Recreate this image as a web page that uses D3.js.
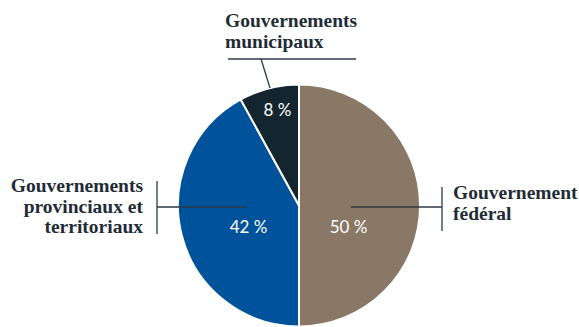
<!DOCTYPE html>
<html>
<head>
<meta charset="utf-8">
<script src="https://cdn.jsdelivr.net/npm/d3@7"></script>
<style>
  html, body { margin: 0; padding: 0; background: #ffffff; }
  svg { display: block; }
</style>
</head>
<body>
<svg id="chart" width="579" height="327"></svg>
<script>
// Share of spending by level of government
const categories = ["federal", "provincial", "municipal"];
const shares = [50, 42, 8];
const pctLabels = ["50 %", "42 %", "8 %"];
const nameLines = [
  ["Gouvernement", "fédéral"],
  ["Gouvernements", "provinciaux et", "territoriaux"],
  ["Gouvernements", "municipaux"]
];
const colors = ["#8a7866", "#00529b", "#13252f"];

const svg = d3.select("#chart");
const cx = 299, cy = 205.5, r = 121;

const pie = d3.pie().sort(null).value(d => d)(shares);
const arc = d3.arc().innerRadius(0).outerRadius(r);

const g = svg.append("g").attr("transform", `translate(${cx},${cy})`);

g.selectAll("path.slice")
  .data(pie)
  .join("path")
  .attr("class", "slice")
  .attr("d", arc)
  .attr("fill", (d, i) => colors[i])
  .attr("stroke", "#ffffff")
  .attr("stroke-width", 2);

// Percentage labels inside slices (offsets from the pie centre)
const pctPos = [
  { x: 49.5, y: 27.5 },
  { x: -50.5, y: 27.5 },
  { x: -21.5, y: -89.5 }
];
g.selectAll("text.pct")
  .data(pie)
  .join("text")
  .attr("class", "pct")
  .attr("text-anchor", "middle")
  .attr("x", (d, i) => pctPos[i].x)
  .attr("y", (d, i) => pctPos[i].y)
  .style("font-family", "Lato, sans-serif")
  .style("font-size", "17px")
  .style("fill", "#ffffff")
  .text((d, i) => pctLabels[i]);

// Leader lines
const lineColor = "#2c3a44";
const leaders = svg.append("g").attr("stroke", lineColor).attr("stroke-width", 1.3).attr("fill", "none");

// federal
leaders.append("line").attr("x1", 351).attr("y1", 207).attr("x2", 442).attr("y2", 207);
leaders.append("line").attr("x1", 442).attr("y1", 187).attr("x2", 442).attr("y2", 231);
// provincial
leaders.append("line").attr("x1", 247).attr("y1", 207).attr("x2", 157).attr("y2", 207);
leaders.append("line").attr("x1", 157).attr("y1", 181).attr("x2", 157).attr("y2", 234);
// municipal
leaders.append("line").attr("x1", 228).attr("y1", 59).attr("x2", 356).attr("y2", 59);
leaders.append("line").attr("x1", 261).attr("y1", 59).attr("x2", 270).attr("y2", 88);

// Category names
const nameSpec = [
  { x: 453, y: 199, anchor: "start" },
  { x: 143, y: 192.3, anchor: "end" },
  { x: 225, y: 27, anchor: "start" }
];
nameLines.forEach((lines, i) => {
  const t = svg.append("text")
    .attr("text-anchor", nameSpec[i].anchor)
    .style("font-family", "'Liberation Serif', serif")
    .style("font-weight", "bold")
    .style("font-size", "19.5px")
    .style("fill", "#1f2c35");
  lines.forEach((s, j) => {
    t.append("tspan").attr("x", nameSpec[i].x).attr("y", nameSpec[i].y + j * 20.5).text(s);
  });
});
</script>
</body>
</html>
